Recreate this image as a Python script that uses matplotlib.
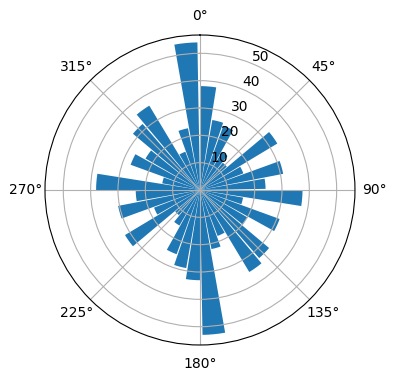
import numpy as np
import matplotlib
matplotlib.use("Agg")
import matplotlib.pyplot as plt

# bin start angles (degrees, clockwise from north) and bar heights
bin_start_deg = np.arange(0, 360, 10)
counts = [38, 26, 25, 16, 13, 33, 17, 31, 24, 37.5,
          16, 31, 20, 33, 35, 18, 22, 53, 33, 29,
          25, 15, 12, 32, 18, 30.5, 23.5, 38, 14, 27,
          23, 32, 36, 15, 23, 54]
bar_width_deg = 9

fig = plt.figure(figsize=(3.96, 3.8), dpi=100)
ax = fig.add_axes([0.1136, 0.0921, 0.7828, 0.8158], projection='polar')
ax.set_theta_zero_location('N')
ax.set_theta_direction(-1)

ax.bar(np.deg2rad(bin_start_deg), counts, width=np.deg2rad(bar_width_deg),
       align='edge', color='C0')
ax.set_rticks([10, 20, 30, 40, 50])

fig.savefig("out.png", dpi=100)
